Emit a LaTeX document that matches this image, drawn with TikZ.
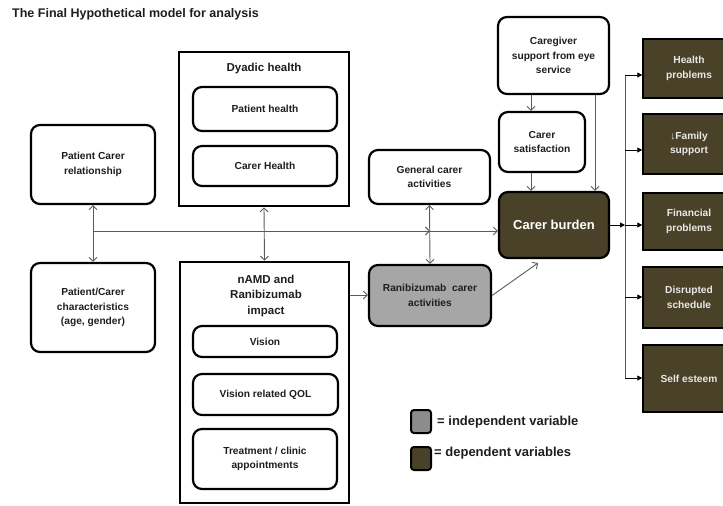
\documentclass[tikz,border=0pt]{standalone}
\usepackage{fontspec}
\setmainfont{Liberation Sans}
\usetikzlibrary{arrows.meta}
\definecolor{darkbox}{RGB}{74,66,40}
\definecolor{lightbox}{RGB}{166,166,166}
\definecolor{legendgray}{RGB}{140,140,140}
\definecolor{linegray}{RGB}{90,90,90}
\definecolor{txt}{RGB}{30,30,30}
\definecolor{lighttxt}{RGB}{232,232,232}
\begin{document}
\begin{tikzpicture}[x=1pt,y=-1pt,
  boxfont/.style={font=\bfseries\fontsize{10.2}{14.5}\selectfont},
  rbox/.style={draw=black, line width=2.2pt, rounded corners=9pt, align=center, boxfont, text=txt, inner sep=1pt},
  sbox/.style={draw=black, line width=2.6pt, inner sep=0pt},
  head/.style={align=center, font=\bfseries\fontsize{11.5}{16}\selectfont, text=txt},
  dbox/.style={draw=black, line width=1.5pt, fill=darkbox, align=center, boxfont, text=lighttxt, minimum width=92pt, inner sep=1pt},
  thinline/.style={draw=linegray, line width=0.9pt},
  oarr/.style={thinline, -{Straight Barb[length=4pt,width=8pt]}},
  darr/.style={thinline, {Straight Barb[length=4pt,width=8pt]}-{Straight Barb[length=4pt,width=8pt]}},
  farr/.style={draw=black, line width=0.9pt, -{Triangle[length=5pt,width=5pt]}},
  legbox/.style={draw=black, line width=2pt, rounded corners=3pt, minimum width=20pt, minimum height=23pt, inner sep=0pt},
  legtext/.style={anchor=west, font=\bfseries\fontsize{13}{15}\selectfont, text=txt, inner sep=0pt}
]
\useasboundingbox (0,0) rectangle (723,506);

% title
\node[anchor=west, inner sep=0pt, font=\bfseries\fontsize{12.5}{15}\selectfont, text=txt] (title) at (12,14) {The Final Hypothetical model for analysis};

% left boxes
\node[rbox, minimum width=124pt, minimum height=79pt] (pcr) at (93,164.5) {Patient Carer\\relationship};
\node[rbox, minimum width=124pt, minimum height=89pt] (pcc) at (93,307.5) {Patient/Carer\\characteristics\\(age, gender)};

% dyadic health group
\node[sbox, minimum width=170pt, minimum height=154pt] (dyad) at (264,129) {};
\node[head] (dyadh) at (264,69) {Dyadic health};
\node[rbox, minimum width=144pt, minimum height=44pt] (ph) at (265,109) {Patient health};
\node[rbox, minimum width=144pt, minimum height=40pt] (ch) at (265,166) {Carer Health};

% nAMD group
\node[sbox, minimum width=169pt, minimum height=241pt] (namd) at (264.5,382.5) {};
\node[head, font=\bfseries\fontsize{11.5}{15.8}\selectfont] (namdh) at (266,296) {nAMD and\\Ranibizumab\\impact};
\node[rbox, minimum width=144pt, minimum height=31pt] (vis) at (265,341.5) {Vision};
\node[rbox, minimum width=145pt, minimum height=41pt] (vqol) at (265.5,394.5) {Vision related QOL};
\node[rbox, minimum width=144pt, minimum height=60pt] (treat) at (265,459) {Treatment / clinic\\appointments};

% middle
\node[rbox, minimum width=121pt, minimum height=54pt] (gca) at (429.5,177) {General carer\\activities};
\node[rbox, fill=lightbox, minimum width=122pt, minimum height=61pt] (rca) at (430,295.5) {Ranibizumab\ \ carer\\activities};

% right column
\node[rbox, minimum width=111pt, minimum height=77pt] (cse) at (553.5,55.5) {Caregiver\\support from eye\\service};
\node[rbox, minimum width=86pt, minimum height=60pt] (csat) at (542,142) {Carer\\satisfaction};
\node[rbox, fill=darkbox, text=white, font=\bfseries\fontsize{13}{15}\selectfont, minimum width=110pt, minimum height=66pt] (cb) at (554,225) {Carer burden};

% outcomes
\node[dbox, minimum height=59pt] (hp) at (689,68.5) {Health\\problems};
\node[dbox, minimum height=60pt] (fs) at (689,144) {↓Family\\support};
\node[dbox, minimum height=57pt] (fp) at (689,221.5) {Financial\\problems};
\node[dbox, minimum height=61pt] (ds) at (689,297.5) {Disrupted\\schedule};
\node[dbox, minimum height=67pt] (se) at (689,378.5) {Self esteem};

% legend
\node[legbox, fill=legendgray] (leg1) at (421,421.5) {};
\node[legtext] (leg1t) at (437,422) {= independent variable};
\node[legbox, fill=darkbox] (leg2) at (421,458.5) {};
\node[legtext] (leg2t) at (434,453) {= dependent variables};

% helper coordinates
\coordinate (hy) at (0,231);
\coordinate (hj) at (430,231);
\coordinate (y295) at (0,295);
\coordinate (cbin) at (538,263);
\coordinate (k1) at (531,0);
\coordinate (k2) at (595,0);
\coordinate (b1) at (625,75);
\coordinate (b2) at (625,150);
\coordinate (b3) at (625,225);
\coordinate (b4) at (625,297);
\coordinate (b5) at (625,378);

% connectors
\draw[darr] (pcr.south) -- (pcc.north);
\draw[darr] (dyad.south) -- (namd.north);
\draw[darr] (gca.south) -- (rca.north);
\draw[oarr] (pcr.south |- hy) -- (hj);
\draw[oarr] (hj) -- (cb.west |- hy);
\draw[oarr] (namd.east |- y295) -- (rca.west |- y295);
\draw[oarr] (rca.east) -- (cbin);
\draw[oarr] (cse.south -| k1) -- (csat.north -| k1);
\draw[oarr] (csat.south -| k1) -- (cb.north -| k1);
\draw[oarr] (cse.south -| k2) -- (cb.north -| k2);

\draw[thinline] (b1) -- (b5);
\draw[farr] (cb.east |- b3) -- (b3);
\draw[farr] (b1) -- (b1 -| hp.west);
\draw[farr] (b2) -- (b2 -| fs.west);
\draw[farr] (b3) -- (b3 -| fp.west);
\draw[farr] (b4) -- (b4 -| ds.west);
\draw[farr] (b5) -- (b5 -| se.west);
\end{tikzpicture}
\end{document}
